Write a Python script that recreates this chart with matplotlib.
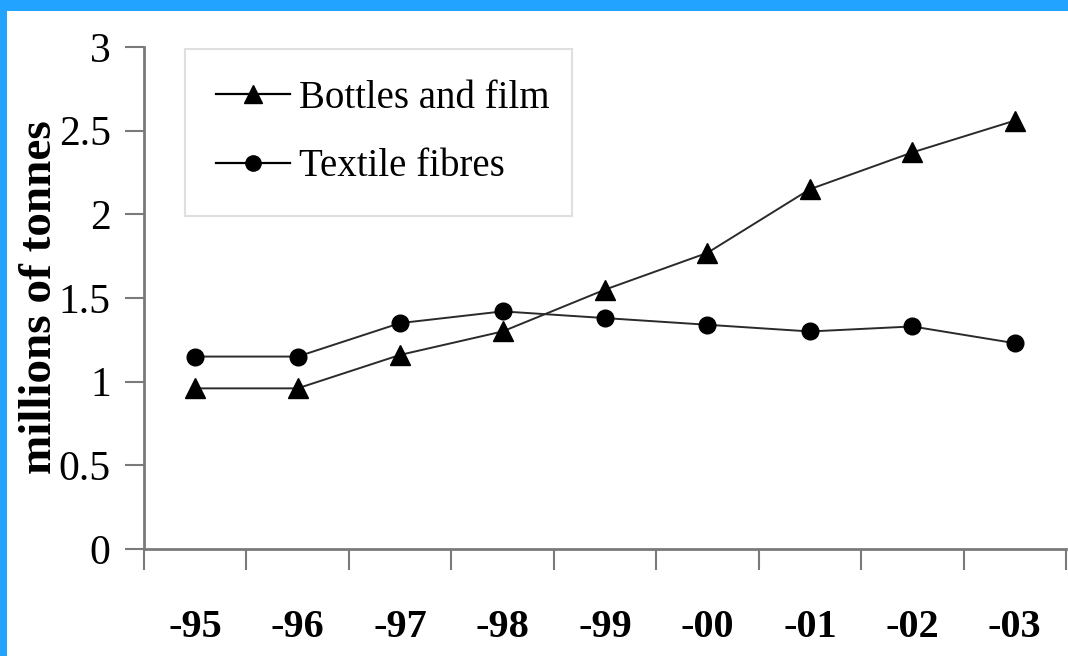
import matplotlib
matplotlib.use("Agg")
import matplotlib.pyplot as plt
from matplotlib.patches import Rectangle
from matplotlib.lines import Line2D

years = ["-95", "-96", "-97", "-98", "-99", "-00", "-01", "-02", "-03"]
bottles_and_film = [0.96, 0.96, 1.16, 1.30, 1.55, 1.77, 2.15, 2.37, 2.56]
textile_fibres = [1.15, 1.15, 1.35, 1.42, 1.38, 1.34, 1.30, 1.33, 1.23]
y_ticks = [0, 0.5, 1, 1.5, 2, 2.5, 3]
y_tick_labels = ["0", "0.5", "1", "1.5", "2", "2.5", "3"]

W, H = 1068, 656
fig = plt.figure(figsize=(W / 100, H / 100), dpi=100)
fig.patch.set_facecolor("white")

serif = ["Liberation Serif", "DejaVu Serif"]
frame_blue = "#22a3ff"

# blue frame along the top and left edges
fig.patches.append(Rectangle((0, 0), 7 / W, 1, transform=fig.transFigure,
                             facecolor=frame_blue, edgecolor="none", zorder=0))
fig.patches.append(Rectangle((0, 1 - 11 / H), 1, 11 / H, transform=fig.transFigure,
                             facecolor=frame_blue, edgecolor="none", zorder=0))

ax = fig.add_axes([144 / W, 1 - 549 / H, (1066 - 144) / W, (549 - 47) / H])
ax.set_facecolor("white")

n = len(years)
xs = [i + 0.5 for i in range(n)]
line_color = "#2a2a2a"
ax.plot(xs, bottles_and_film, color=line_color, lw=1.4, marker="^", ms=14,
        mfc="black", mec="black", label="Bottles and film", zorder=3)
ax.plot(xs, textile_fibres, color=line_color, lw=1.4, marker="o", ms=12,
        mfc="black", mec="black", label="Textile fibres", zorder=3)

ax.set_xlim(0, n)
ax.set_ylim(0, 3)

for side in ("top", "right"):
    ax.spines[side].set_visible(False)
axis_grey = "#7a7a7a"
for side in ("left", "bottom"):
    ax.spines[side].set_color(axis_grey)
    ax.spines[side].set_linewidth(2)

ax.set_yticks(y_ticks)
ax.set_yticklabels(y_tick_labels, fontfamily=serif, fontsize=30)
ax.tick_params(axis="y", direction="out", length=14, width=1.5, color=axis_grey,
               pad=10)

# category boundaries carry the ticks; labels sit at the centres
ax.set_xticks(range(n + 1))
ax.set_xticklabels([])
ax.set_xticks(xs, minor=True)
ax.set_xticklabels(years, minor=True, fontfamily=serif, fontsize=29,
                   fontweight="bold")
ax.tick_params(axis="x", which="major", direction="out", length=15, width=1.5,
               color=axis_grey)
ax.tick_params(axis="x", which="minor", length=0, pad=43)

fig.text(40 / W, 1 - 297 / H, "millions of tonnes", rotation=90,
         ha="center", va="center", fontfamily=serif, fontsize=34,
         fontweight="bold")

handles = [
    Line2D([], [], color="black", lw=1.6, marker="^", ms=13, mfc="black"),
    Line2D([], [], color="black", lw=1.6, marker="o", ms=11, mfc="black"),
]
leg = ax.legend(handles, ["Bottles and film", "Textile fibres"],
                loc="upper left",
                bbox_to_anchor=(185 / W, 1 - 202 / H, (572 - 185) / W, (202 - 49) / H),
                bbox_transform=fig.transFigure, mode="expand",
                prop={"family": serif, "size": 28}, frameon=True,
                fancybox=False, handlelength=1.9, handletextpad=0.23,
                borderpad=0.8, labelspacing=0.8, borderaxespad=0)
leg.get_frame().set_edgecolor("#d8d8d8")
leg.get_frame().set_linewidth(1.5)

fig.savefig("out.png", dpi=100, facecolor="white")
